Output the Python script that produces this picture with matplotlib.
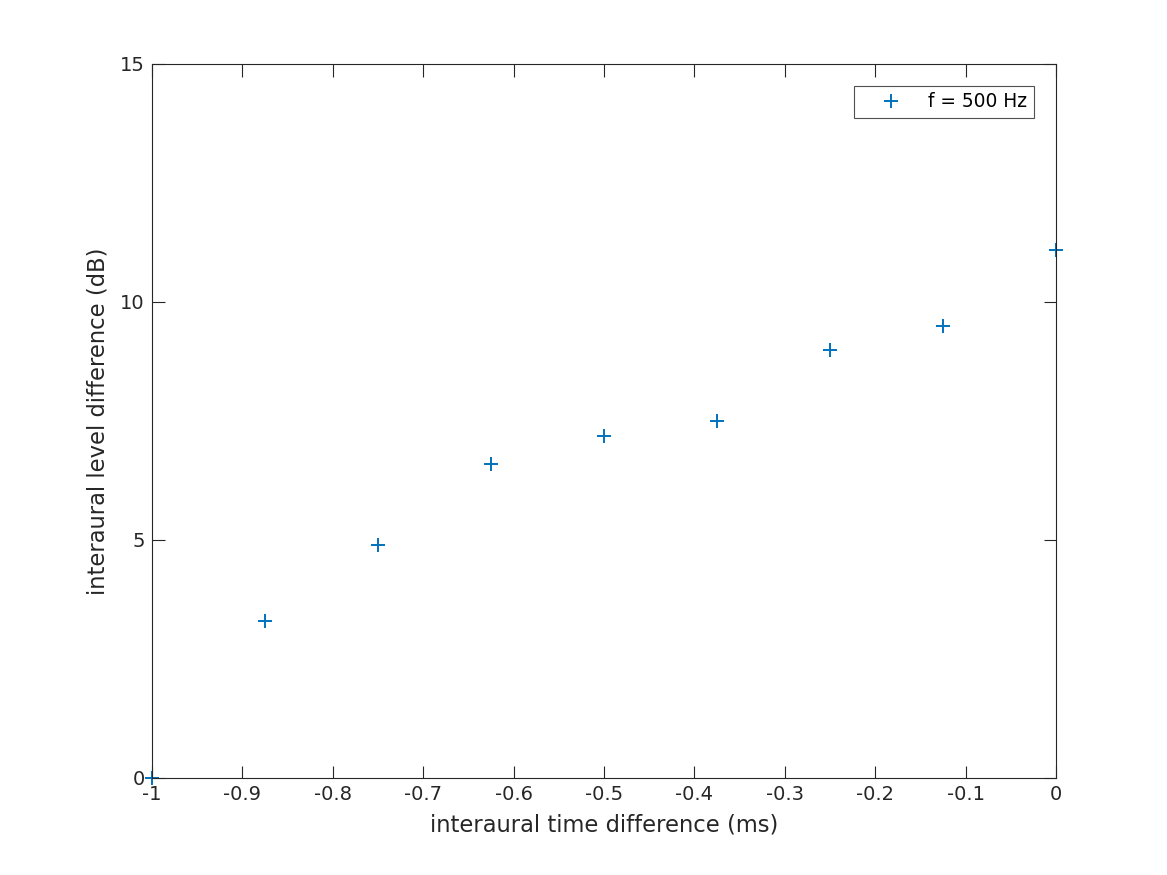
import numpy as np
import matplotlib
matplotlib.use("Agg")
import matplotlib.pyplot as plt

plt.rcParams['font.family'] = ['DejaVu Sans']
plt.rcParams['axes.unicode_minus'] = False

# data
itd_ms = [-1.0, -0.875, -0.75, -0.625, -0.5, -0.375, -0.25, -0.125, 0.0]
ild_db = [0.0, 3.30, 4.89, 6.60, 7.18, 7.50, 8.99, 9.50, 11.09]
xticks = [-1, -0.9, -0.8, -0.7, -0.6, -0.5, -0.4, -0.3, -0.2, -0.1, 0]
xticklabels = ['-1', '-0.9', '-0.8', '-0.7', '-0.6', '-0.5', '-0.4', '-0.3', '-0.2', '-0.1', '0']
yticks = [0, 5, 10, 15]

txt = '#262626'

fig = plt.figure(figsize=(11.67, 8.75), dpi=100)
ax = fig.add_axes([0.1302, 0.1109, 0.7746, 0.816])

ax.plot(itd_ms, ild_db, linestyle='none', marker='+', markersize=9.5,
        markeredgewidth=1.4, color='#0072BD', label='f = 500 Hz', clip_on=False)

ax.set_xlim(-1, 0)
ax.set_ylim(0, 15)
ax.set_xticks(xticks)
ax.set_xticklabels(xticklabels)
ax.set_yticks(yticks)

ax.tick_params(direction='in', length=9, width=0.8, top=True, right=True,
               labelsize=14, colors=txt, labelcolor=txt, pad=5)
for s in ax.spines.values():
    s.set_color(txt)
    s.set_linewidth(0.8)

ax.set_xlabel('interaural time difference (ms)', fontsize=16.3, color=txt, labelpad=7)
ax.set_ylabel('interaural level difference (dB)', fontsize=16.3, color=txt, labelpad=8)

leg = ax.legend(loc='upper right', fontsize=13.4, frameon=True, fancybox=False,
                edgecolor=txt, borderaxespad=1.2, handletextpad=0.35,
                handlelength=3.3, borderpad=0.33)
leg.get_frame().set_linewidth(0.8)

fig.savefig('out.png', dpi=100)
